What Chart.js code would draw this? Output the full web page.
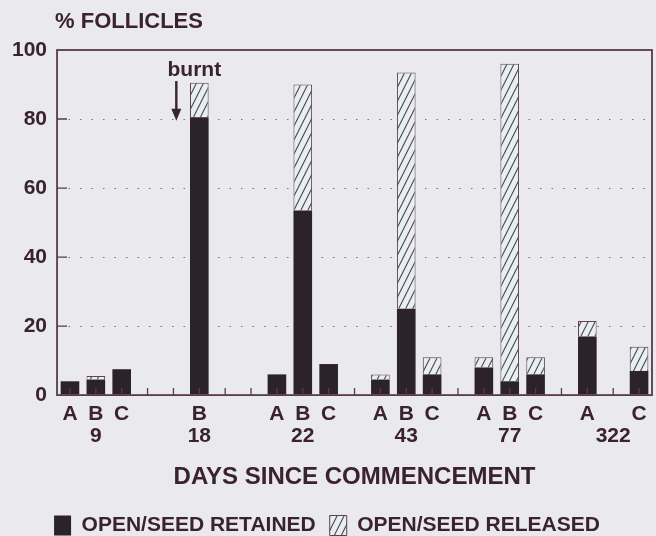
<!DOCTYPE html>
<html>
<head>
<meta charset="utf-8">
<script src="https://cdn.jsdelivr.net/npm/chart.js@4/dist/chart.umd.min.js"></script>
<style>
  html, body { margin: 0; padding: 0; background: #eae9ed; }
  #wrap { width: 656px; height: 536px; }
</style>
</head>
<body>
<div id="wrap"><canvas id="follicleChart" width="656" height="536"></canvas></div>
<script>
// slot letters (A/B/C per day, blank = gap between days)
const letters = ['A','B','C','','','B','','','A','B','C','','A','B','C','','A','B','C','','A','','C'];
const days    = ['','9','','','','18','','','','22','','','','43','','','','77','','','','322',''];

// % follicles
const retained = [4, 4.5, 7.5, null, null, 80.5, null, null, 6, 53.5, 9, null, 4.5, 25, 6, null, 8, 4, 6, null, 17, null, 7];
const released = [null, 1, null, null, null, 10, null, null, null, 36.5, null, null, 1.5, 68.5, 5, null, 3, 92, 5, null, 4.5, null, 7];

const yTicks = [0, 20, 40, 60, 80, 100];

const ink = '#3a2230';
const barDark = '#2b2327';
const fam = '"Liberation Sans", Arial, sans-serif';

function hatchPattern() {
    var c = document.createElement('canvas');
    c.width = 7; c.height = 14;
    var g = c.getContext('2d');
    g.fillStyle = '#e4f0f1';
    g.fillRect(0, 0, 7, 14);
    g.strokeStyle = '#5b4350';
    g.lineWidth = 1.1;
    g.beginPath();
    g.moveTo(-1, 16); g.lineTo(8, -2);
    g.moveTo(-8, 16); g.lineTo(1, -2);
    g.moveTo(6, 16); g.lineTo(15, -2);
    g.stroke();
    return g.createPattern(c, 'repeat');
}

const labels = letters.map((l, i) => [l, days[i]]);

// background, frame, inner tick stubs, title and the "burnt" arrow
const decor = {
    id: 'decor',
    beforeDraw(chart) {
        const ctx = chart.ctx;
        ctx.save();
        ctx.fillStyle = '#eae9ed';
        ctx.fillRect(0, 0, chart.width, chart.height);
        ctx.restore();
    },
    afterDatasetsDraw(chart) {
        const ctx = chart.ctx;
        const a = chart.chartArea;
        const x = chart.scales.x, y = chart.scales.y;
        ctx.save();
        ctx.strokeStyle = '#5a3a4a';
        ctx.lineWidth = 1.8;
        ctx.strokeRect(a.left, a.top, a.right - a.left, a.bottom - a.top);

        // short ticks inside the plot
        ctx.lineWidth = 1.3;
        ctx.beginPath();
        yTicks.slice(1, -1).forEach(v => {
            const py = y.getPixelForValue(v);
            ctx.moveTo(a.left, py); ctx.lineTo(a.left + 10, py);
        });
        letters.forEach((l, i) => {
            const px = x.getPixelForValue(i);
            ctx.moveTo(px, a.bottom); ctx.lineTo(px, a.bottom - 7);
        });
        ctx.stroke();

        ctx.fillStyle = ink;
        ctx.font = 'bold 22px ' + fam;
        ctx.textAlign = 'left';
        ctx.textBaseline = 'alphabetic';
        ctx.fillText('% FOLLICLES', a.left - 2, a.top - 22);

        // burnt arrow next to B/18
        const ax = x.getPixelForValue(5) - 23;
        const tip = y.getPixelForValue(79.5);
        ctx.font = 'bold 21px ' + fam;
        ctx.textAlign = 'center';
        ctx.fillText('burnt', ax + 18, y.getPixelForValue(92.5));
        ctx.strokeStyle = ink;
        ctx.lineWidth = 2.4;
        ctx.beginPath();
        ctx.moveTo(ax, y.getPixelForValue(91)); ctx.lineTo(ax, tip - 8);
        ctx.stroke();
        ctx.beginPath();
        ctx.moveTo(ax - 5, tip - 12); ctx.lineTo(ax + 5, tip - 12); ctx.lineTo(ax, tip);
        ctx.closePath();
        ctx.fill();
        ctx.restore();
    }
};

const ctx = document.getElementById('follicleChart').getContext('2d');
const follicleChart = new Chart(ctx, {
    type: 'bar',
    data: {
        labels: labels,
        datasets: [{
            label: 'OPEN/SEED RETAINED',
            data: retained,
            backgroundColor: barDark,
            borderColor: barDark,
            borderWidth: 0
        }, {
            label: 'OPEN/SEED RELEASED',
            data: released,
            backgroundColor: hatchPattern(),
            borderColor: '#5b4350',
            borderWidth: 1
        }]
    },
    options: {
        responsive: false,
        animation: false,
        devicePixelRatio: 1,
        layout: { padding: { top: 50, left: 2, right: 4, bottom: -10 } },
        datasets: { bar: { categoryPercentage: 1, barPercentage: 0.72 } },
        scales: {
            x: {
                stacked: true,
                grid: { display: false, drawTicks: false },
                border: { display: false },
                ticks: {
                    autoSkip: false,
                    maxRotation: 0,
                    padding: 8,
                    color: ink,
                    font: { family: fam, size: 21, weight: 'bold', lineHeight: 1.05 }
                },
                title: {
                    display: true,
                    text: 'DAYS SINCE COMMENCEMENT',
                    color: ink,
                    padding: { top: 8, bottom: 9 },
                    font: { family: fam, size: 24, weight: 'bold' }
                }
            },
            y: {
                stacked: true,
                min: 0,
                max: 100,
                afterBuildTicks: scale => { scale.ticks = yTicks.map(v => ({ value: v })); },
                grid: {
                    drawTicks: false,
                    color: c => (c.tick && c.tick.value > 0 && c.tick.value < 100) ? '#8a6a7a' : 'rgba(0,0,0,0)',
                    lineWidth: 1
                },
                border: { display: false, dash: [1.5, 10] },
                ticks: {
                    padding: 10,
                    color: ink,
                    font: { family: fam, size: 21, weight: 'bold' }
                }
            }
        },
        plugins: {
            legend: {
                position: 'bottom',
                labels: {
                    color: ink,
                    boxWidth: 17,
                    boxHeight: 20,
                    padding: 14,
                    font: { family: fam, size: 21, weight: 'bold' }
                }
            },
            tooltip: { enabled: false }
        }
    },
    plugins: [decor]
});
</script>
</body>
</html>
